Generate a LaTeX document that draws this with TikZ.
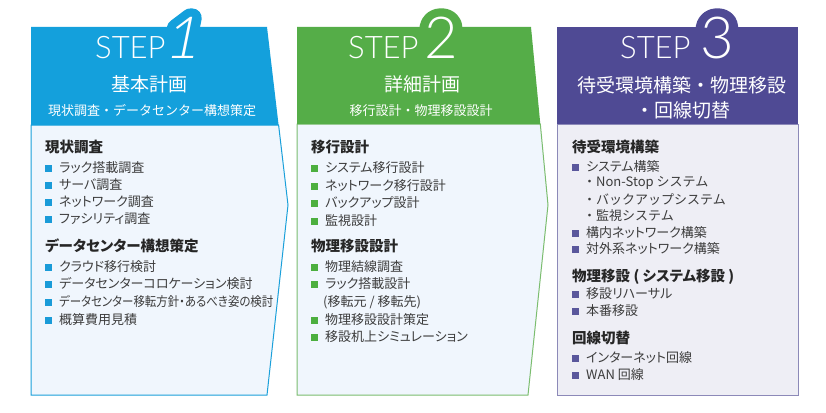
\documentclass[tikz,border=0pt]{standalone}
\usepackage{graphicx}
\usepackage{fontspec}
\setmainfont{Noto Sans CJK JP}
\newfontfamily\jpp{Noto Sans CJK JP}[RawFeature=+palt]
\newcommand\mkthin[1]{%
  \newfontfamily\stepfont{#1}%
  \newfontfamily\digslant{#1}[FakeSlant=0.2]%
  \newfontfamily\blobfont{#1}[FakeBold=32]%
  \newfontfamily\blobslant{#1}[FakeBold=32,FakeSlant=0.2]}
\IfFontExistsTF{Lato Light}{\mkthin{Lato Light}}{%
  \IfFontExistsTF{Fira Sans Light}{\mkthin{Fira Sans Light}}{%
    \IfFontExistsTF{Open Sans Light}{\mkthin{Open Sans Light}}{%
      \IfFontExistsTF{Noto Sans CJK JP Light}{\mkthin{Noto Sans CJK JP Light}}{%
        \mkthin{Liberation Sans}}}}}
\definecolor{cblue}{HTML}{14A0DC}
\definecolor{cgreen}{HTML}{55AD48}
\definecolor{cpurple}{HTML}{4F4A94}
\definecolor{bblue}{HTML}{F0F6FD}
\definecolor{bpurple}{HTML}{EEEEF5}
\definecolor{lblue}{HTML}{1BA0DA}
\definecolor{lgreen}{HTML}{7BBD6F}
\definecolor{lpurple}{HTML}{8C89B8}
\definecolor{qblue}{HTML}{1A9BD8}
\definecolor{qgreen}{HTML}{4CAF3F}
\definecolor{qpurple}{HTML}{5A579C}
\definecolor{txt}{HTML}{3C3C3C}
\definecolor{hd}{HTML}{262626}
\newcommand\sqb[1]{\textcolor{#1}{\rule[1.3pt]{7pt}{7pt}}\hspace{7pt}}
\begin{document}
\begin{tikzpicture}[x=1pt,y=-1pt,
  item/.style={anchor=west, inner sep=0pt, font=\jpp\fontsize{13}{15}\selectfont, text=txt},
  subitem/.style={anchor=west, inner sep=0pt, font=\fontsize{13}{15}\selectfont, text=txt},
  head/.style={anchor=west, inner sep=0pt, font=\jpp\bfseries\fontsize{14.5}{16}\selectfont, text=hd},
  htitle/.style={inner sep=0pt, text=white, font=\fontsize{19}{21}\selectfont},
  hsub/.style={inner sep=0pt, text=white, font=\fontsize{13}{15}\selectfont},
  steptxt/.style={anchor=base west, inner sep=0pt, text=white, font=\stepfont\fontsize{31}{34}\selectfont},
  digit/.style={anchor=base west, inner sep=0pt, line join=round},
  bodyline/.style={line width=1pt}]
\useasboundingbox (0,0) rectangle (826,412);
\fill[white] (0,0) rectangle (826,412);
% ---------- panel 1
\filldraw[fill=bblue, draw=lblue, bodyline] (31,125) -- (278.6,125) -- (288,205) -- (267,395) -- (31,395) -- cycle;
\fill[cblue] (31,27) -- (267,27) -- (278.6,125) -- (31,125) -- cycle;
\node[digit, text=cblue, font=\blobslant\fontsize{58}{60}\selectfont] (b1) at (164,59) {1};
\node[steptxt] (s1) at (95,59) {STEP};
\node[digit, text=white, font=\digslant\fontsize{58}{60}\selectfont] (d1) at (164,59) {1};
\node[htitle] (t1) at (149,84) {基本計画};
\node[hsub] (u1) at (152,111) {現状調査・データセンター構想策定};
\node[head] (h11) at (45,147) {現状調査};
\node[item] (i11) at (45,168) {\sqb{qblue}ラック搭載調査};
\node[item] (i12) at (45,185) {\sqb{qblue}サーバ調査};
\node[item] (i13) at (45,202) {\sqb{qblue}ネットワーク調査};
\node[item] (i14) at (45,219) {\sqb{qblue}ファシリティ調査};
\node[head] (h12) at (45,246) {データセンター構想策定};
\node[item] (i15) at (45,267) {\sqb{qblue}クラウド移行検討};
\node[item] (i16) at (45,284) {\sqb{qblue}データセンターコロケーション検討};
\node[item] (i17) at (45,302) {\sqb{qblue}\scalebox{0.88}[1]{データセンター移転方針・あるべき姿の検討}};
\node[item] (i18) at (45,320) {\sqb{qblue}概算費用見積};
% ---------- panel 2
\filldraw[fill=bblue, draw=lgreen, bodyline] (297,124) -- (540.3,124) -- (548,205) -- (528,395) -- (297,395) -- cycle;
\fill[cgreen] (297,27) -- (531,27) -- (540.3,124) -- (297,124) -- cycle;
\node[digit, text=cgreen, font=\blobfont\fontsize{58}{60}\selectfont] (b2) at (424,59) {2};
\node[steptxt] (s2) at (348,59) {STEP};
\node[digit, text=white, font=\stepfont\fontsize{58}{60}\selectfont] (d2) at (424,59) {2};
\node[htitle] (t2) at (422,84) {詳細計画};
\node[hsub] (u2) at (421,111) {移行設計・物理移設設計};
\node[head] (h21) at (311,147) {移行設計};
\node[item] (i21) at (311,168) {\sqb{qgreen}システム移行設計};
\node[item] (i22) at (311,186) {\sqb{qgreen}ネットワーク移行設計};
\node[item] (i23) at (311,203) {\sqb{qgreen}バックアップ設計};
\node[item] (i24) at (311,221) {\sqb{qgreen}監視設計};
\node[head] (h22) at (311,246) {物理移設設計};
\node[item] (i25) at (311,267) {\sqb{qgreen}物理結線調査};
\node[item] (i26) at (311,284) {\sqb{qgreen}ラック搭載設計};
\node[item] (i27) at (323,302) {(移転元 / 移転先)};
\node[item] (i28) at (311,320) {\sqb{qgreen}物理移設設計策定};
\node[item] (i29) at (311,337) {\sqb{qgreen}移設机上シミュレーション};
% ---------- panel 3
\filldraw[fill=bpurple, draw=lpurple, bodyline] (557,124) rectangle (798,395);
\fill[cpurple] (557,27) rectangle (798,124);
\node[digit, text=cpurple, font=\blobfont\fontsize{58}{60}\selectfont] (b3) at (700,59) {3};
\node[steptxt] (s3) at (620,59) {STEP};
\node[digit, text=white, font=\stepfont\fontsize{58}{60}\selectfont] (d3) at (700,59) {3};
\node[htitle] (t3) at (682,85) {待受環境構築・物理移設};
\node[htitle] (t3b) at (683,110) {・回線切替};
\node[head] (h31) at (572,147) {待受環境構築};
\node[item] (i31) at (572,167) {\sqb{qpurple}システム構築};
\node[subitem] (i32) at (583,183) {・Non-Stop システム};
\node[subitem] (i33) at (583,200) {・バックアップシステム};
\node[subitem] (i34) at (583,216) {・監視システム};
\node[item] (i35) at (572,233) {\sqb{qpurple}構内ネットワーク構築};
\node[item] (i36) at (572,249) {\sqb{qpurple}対外系ネットワーク構築};
\node[head] (h32) at (572,277) {物理移設 ( システム移設 )};
\node[item] (i37) at (572,294) {\sqb{qpurple}移設リハーサル};
\node[item] (i38) at (572,311) {\sqb{qpurple}本番移設};
\node[head] (h33) at (572,338) {回線切替};
\node[item] (i39) at (572,358) {\sqb{qpurple}インターネット回線};
\node[item] (i40) at (572,375) {\sqb{qpurple}WAN 回線};
\end{tikzpicture}
\end{document}
